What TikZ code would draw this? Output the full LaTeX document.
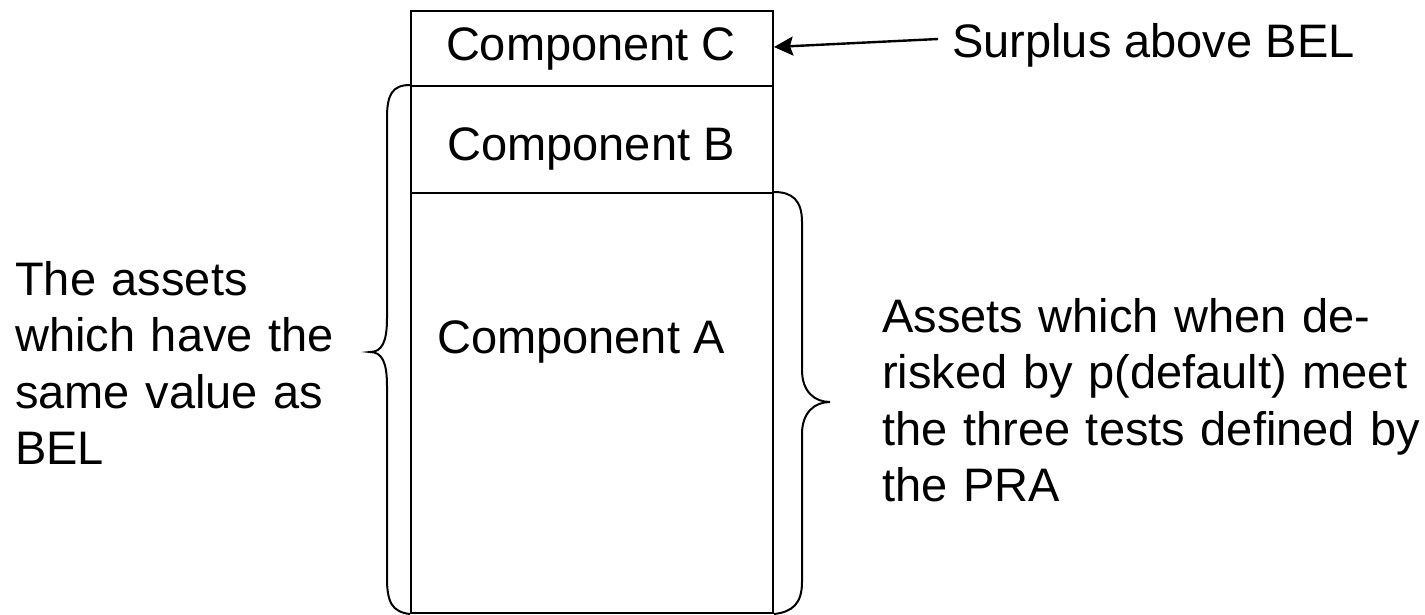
\documentclass[tikz,border=0pt]{standalone}
\usepackage{fontspec}
\setmainfont{Liberation Sans}
\usetikzlibrary{arrows.meta}
\begin{document}
\begin{tikzpicture}[x=1pt,y=-1pt,
  part/.style={draw, line width=2pt, minimum width=362pt, anchor=north west, inner sep=0pt},
  lbl/.style={inner sep=0pt, font=\fontsize{47}{56.5}\selectfont},
  para/.style={lbl, align=left, text width=560pt, anchor=base west},
  brace/.style={draw, line width=2pt},
  arr/.style={line width=2.4pt, -{Stealth[length=19pt,width=19pt,inset=3pt]}}]
\useasboundingbox (0,0) rectangle (1425,614);
% stacked box
\node[part, minimum height=75pt]  (C) at (410,10)  {};
\node[part, minimum height=107pt] (B) at (410,85)  {};
\node[part, minimum height=420pt] (A) at (410,192) {};
% component labels
\node[lbl, anchor=base] (tC) at (591,60)  {Component C};
\node[lbl, anchor=base] (tB) at (591,160) {Component B};
\node[lbl, anchor=base west] (tA) at (437,353) {Component A};
% surplus label and arrow
\node[lbl, anchor=base west] (S) at (952,57) {Surplus above BEL};
\coordinate (sa) at (938,39);
\draw[arr] (sa) -- (C.east |- 0,47);
% left brace
\draw[brace] (B.north west) .. controls (392,85) and (387,95) .. (387,118)
  -- (387,318) .. controls (387,342) and (382,352) .. (370,352)
  .. controls (382,352) and (387,362) .. (387,386)
  -- (387,578) .. controls (387,602) and (392,612) .. (A.south west);
% right brace
\draw[brace] (A.north east) .. controls (792,192) and (802,200) .. (802,222)
  -- (802,370) .. controls (802,392) and (815,402) .. (830,402)
  .. controls (815,402) and (802,412) .. (802,434)
  -- (802,582) .. controls (802,604) and (792,612) .. (A.south east);
% side texts
\node[para] (L) at (15,295) {The assets\\which have the\\same value as\\BEL};
\node[para] (R) at (882,332) {Assets which when de-\\risked by p(default) meet\\the three tests defined by\\the PRA};
\end{tikzpicture}
\end{document}
